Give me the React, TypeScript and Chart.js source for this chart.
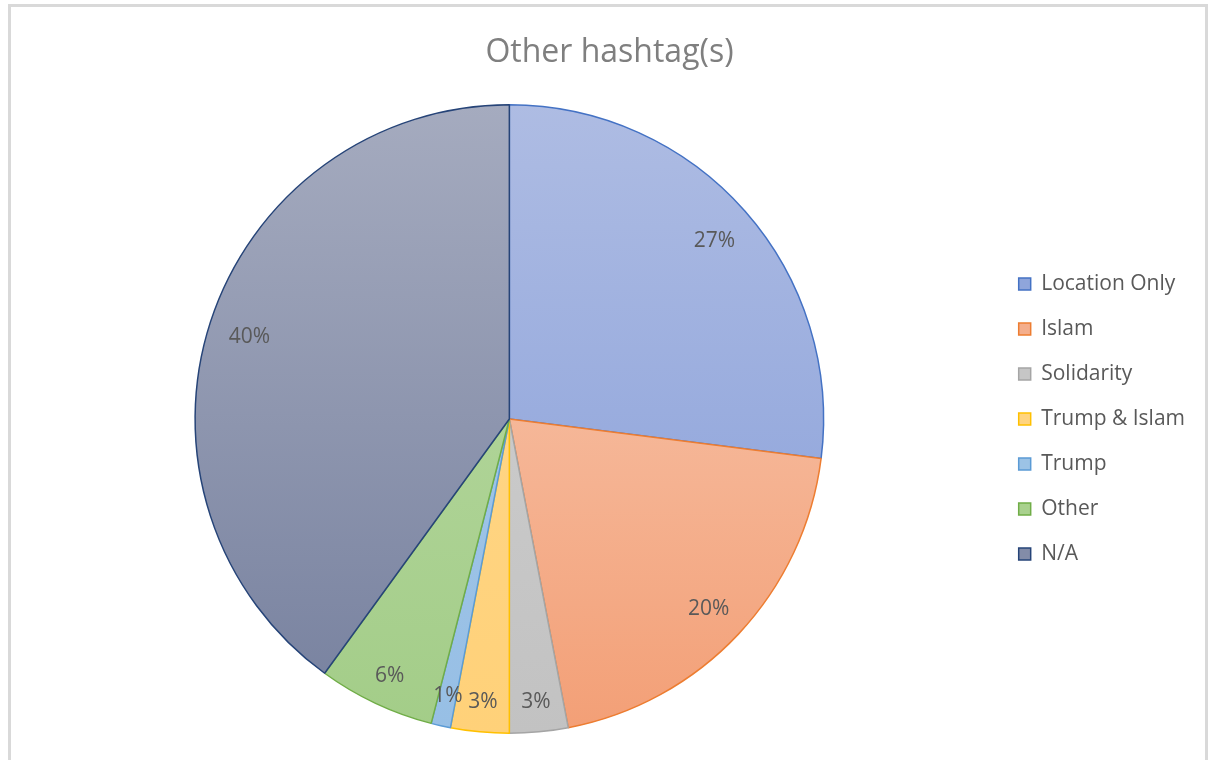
import React, { useEffect, useRef } from "react";
import { Chart, registerables } from "chart.js";

Chart.register(...registerables);

const TITLE = "Other hashtag(s)";
const categories = ["Location Only", "Islam", "Solidarity", "Trump & Islam", "Trump", "Other", "N/A"];
const shares = [27, 20, 3, 3, 1, 6, 40];
const topColors = ["#AEBCE3", "#F8CFBA", "#D2D2D2", "#FFD98E", "#A6C9E8", "#BBDAA6", "#A5ABBF"];
const bottomColors = ["#859DD9", "#F39F76", "#C2C2C2", "#FFD179", "#97BFE5", "#A3CD88", "#76809E"];
const legendColors = ["#8FA5DB", "#F4AE8C", "#C6C6C6", "#FFD480", "#9CC3E6", "#A9D18E", "#838CA8"];
const borderColors = ["#4472C4", "#ED7D31", "#A5A5A5", "#FFC000", "#5B9BD5", "#70AD47", "#264478"];

const FONT = "'Open Sans', 'Liberation Sans', sans-serif";

const labelPlugin = {
  id: "sliceLabels",
  afterDatasetsDraw(chart: any) {
    const ctx = chart.ctx;
    const meta = chart.getDatasetMeta(0);
    ctx.save();
    ctx.font = `21px ${FONT}`;
    ctx.fillStyle = "#595959";
    ctx.textAlign = "center";
    ctx.textBaseline = "middle";
    meta.data.forEach((arc: any, i: number) => {
      const { x, y, startAngle, endAngle, outerRadius } = arc.getProps(
        ["x", "y", "startAngle", "endAngle", "outerRadius"],
        true
      );
      const mid = (startAngle + endAngle) / 2;
      const frac = shares[i] >= 10 ? 0.87 : 0.895;
      const r = outerRadius * frac;
      ctx.fillText(`${shares[i]}%`, x + Math.cos(mid) * r, y + Math.sin(mid) * r + 3);
    });
    ctx.restore();
  },
};

export default function App() {
  const ref = useRef<HTMLCanvasElement | null>(null);

  useEffect(() => {
    if (!ref.current) return;
    const chart = new Chart(ref.current, {
      type: "pie",
      data: {
        labels: categories,
        datasets: [
          {
            data: shares,
            backgroundColor: ((c: any) => {
              const i = c.dataIndex ?? 0;
              const chart = c.chart;
              const area = chart.chartArea;
              if (!area) return legendColors[i];
              const g = chart.ctx.createLinearGradient(0, area.top, 0, area.bottom);
              g.addColorStop(0, topColors[i]);
              g.addColorStop(1, bottomColors[i]);
              return g;
            }) as any,
            borderColor: borderColors,
            borderWidth: 1.5,
          },
        ],
      },
      options: {
        responsive: false,
        animation: false,
        layout: { padding: { left: 24, right: 23, top: 0, bottom: 26 } },
        plugins: {
          title: {
            display: true,
            text: TITLE,
            color: "#7F7F7F",
            font: { family: FONT, size: 32, weight: "normal" as any, lineHeight: 1.2 },
            padding: { top: 34, bottom: 31.6 },
          },
          legend: {
            position: "right",
            fullSize: false,
            labels: {
              color: "#595959",
              font: { family: FONT, size: 21 },
              boxWidth: 12,
              boxHeight: 12,
              padding: 24,
              generateLabels: () =>
                categories.map((c, i) => ({
                  text: c,
                  fillStyle: legendColors[i],
                  strokeStyle: borderColors[i],
                  lineWidth: 1.5,
                  fontColor: "#595959",
                  hidden: false,
                  index: i,
                  datasetIndex: 0,
                })) as any,
            },
          },
          tooltip: { enabled: false },
        },
      },
      plugins: [labelPlugin],
    });
    return () => chart.destroy();
  }, []);

  return (
    <div style={{ position: "fixed", left: 0, top: 0, width: 1218, height: 760, background: "#fff", overflow: "hidden" }}>
      <div
        style={{
          position: "absolute",
          left: 8,
          top: 4,
          width: 1194,
          height: 800,
          border: "3px solid #D9D9D9",
        }}
      />
      <canvas ref={ref} width={1218} height={760} style={{ position: "absolute", left: 0, top: 0, display: "block" }} />
    </div>
  );
}
